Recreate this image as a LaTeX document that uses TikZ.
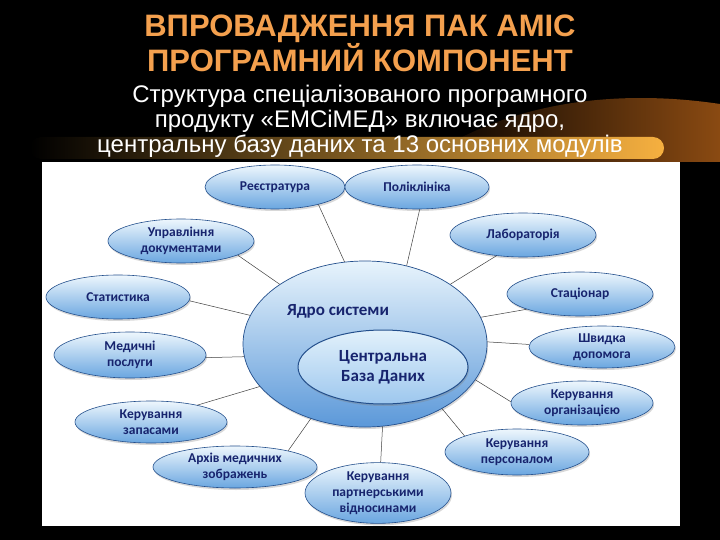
\documentclass[tikz,border=0pt]{standalone}
\usepackage{fontspec}
\setmainfont{Liberation Sans}
\newfontfamily\carlito{Carlito}
\usetikzlibrary{shapes.geometric,shadows}

\definecolor{titleorange}{HTML}{F4A04E}
\definecolor{elltop}{HTML}{EEF7FD}
\definecolor{ellbottom}{HTML}{6AA6E0}
\definecolor{ellline}{HTML}{234F8C}
\definecolor{labelnavy}{HTML}{17246E}
\definecolor{coretop}{HTML}{E8F4FC}
\definecolor{corebottom}{HTML}{5B98D9}
\definecolor{dbtop}{HTML}{E2F1FB}
\definecolor{dbbottom}{HTML}{9DC7EE}
\definecolor{bandmid}{HTML}{7A1A5E}
\definecolor{bandend}{HTML}{F6B040}
\definecolor{halo}{HTML}{8A4A12}

\tikzset{
	module/.style={ellipse, draw=ellline, line width=0.6pt, top color=elltop, bottom color=ellbottom,
		inner sep=0pt, align=center, text=labelnavy,
		font=\carlito\bfseries\fontsize{13.5}{16}\selectfont,
		drop shadow={opacity=0.3, shadow xshift=1pt, shadow yshift=-2pt}},
	link/.style={line width=0.5pt, color=black!75},
}

\begin{document}
\begin{tikzpicture}[x=1pt, y=-1pt]
			%%%%% START %%%%%
			
			\fill[black] (0, 0) rectangle (720, 540);
			\useasboundingbox (0, 0) rectangle (720, 540);
			
			\shade[left color=black, right color=halo] (420, 162) .. controls (520, 92) and (640, 92) .. (720, 104) -- (720, 162) -- cycle;
			\shade[left color=black, middle color=bandmid, right color=bandend, rounded corners=11pt] (30, 137) rectangle (664, 159);
			
			\node[font=\bfseries\fontsize{31}{30}\selectfont, text=titleorange, align=center] (title) at (360, 43) {ВПРОВАДЖЕННЯ ПАК АМІС\\ПРОГРАМНИЙ КОМПОНЕНТ};
			\node[font=\fontsize{24}{25}\selectfont, text=white, align=center] (subtitle) at (360, 121) {Структура спеціалізованого програмного\\продукту «ЕМСіМЕД» включає ядро,\\центральну базу даних та 13 основних модулів};
			
			\fill[white] (42, 162) rectangle (680, 526);
			
			\node[ellipse, draw=ellline, line width=0.7pt, top color=coretop, bottom color=corebottom, minimum width=244, minimum height=166, drop shadow={opacity=0.3, shadow xshift=1pt, shadow yshift=-2pt}] (core) at (365, 344) {};
			\node[font=\carlito\bfseries\fontsize{17}{20}\selectfont, text=labelnavy] (corelabel) at (338, 311) {Ядро системи};
			\node[ellipse, draw=ellline, line width=1pt, top color=dbtop, bottom color=dbbottom, minimum width=170, minimum height=74, align=center, text=labelnavy, font=\carlito\bfseries\fontsize{17}{20}\selectfont, drop shadow={opacity=0.35, shadow xshift=1pt, shadow yshift=-2pt}] (db) at (383, 367) {Центральна\\База Даних};
			
			\node[module, minimum width=140, minimum height=44] (reg) at (275, 187) {Реєстратура};
			\node[module, minimum width=144, minimum height=44] (pol) at (417, 187) {Поліклініка};
			\node[module, minimum width=146, minimum height=44] (lab) at (523, 235) {Лабораторія};
			\node[module, minimum width=146, minimum height=44] (sta) at (580, 294) {Стаціонар};
			\node[module, minimum width=146, minimum height=42] (shv) at (602, 347) {Швидка\\допомога};
			\node[module, minimum width=142, minimum height=44] (org) at (582, 403) {Керування\\організацією};
			\node[module, minimum width=144, minimum height=46] (per) at (517, 452) {Керування\\персоналом};
			\node[module, minimum width=146, minimum height=56] (par) at (378, 493) {Керування\\партнерськими\\відносинами};
			\node[module, minimum width=164, minimum height=42] (arh) at (235, 467) {Архів медичних\\зображень};
			\node[module, minimum width=152, minimum height=42] (zap) at (151, 422) {Керування\\запасами};
			\node[module, minimum width=152, minimum height=46] (med) at (130, 355) {Медичні\\послуги};
			\node[module, minimum width=144, minimum height=44] (stat) at (118, 297) {Статистика};
			\node[module, minimum width=146, minimum height=44] (doc) at (181, 241) {Управління\\документами};
			
			\draw[link] (reg.-22) -- (core.104);
			\draw[link] (pol.-83) -- (core.62);
			\draw[link] (lab.218) -- (core.35);
			\draw[link] (sta.196) -- (core.13);
			\draw[link] (shv.178) -- (core.1);
			\draw[link] (org.179) -- (core.-18);
			\draw[link] (per.163) -- (core.-40);
			\draw[link] (par.85) -- (core.-78);
			\draw[link] (arh.17) -- (core.234);
			\draw[link] (zap.20) -- (core.202);
			\draw[link] (med.-2) -- (core.186);
			\draw[link] (stat.-3) -- (core.166);
			\draw[link] (doc.-14) -- (core.145);
			
			%%%%% END %%%%%
\end{tikzpicture}
\end{document}
